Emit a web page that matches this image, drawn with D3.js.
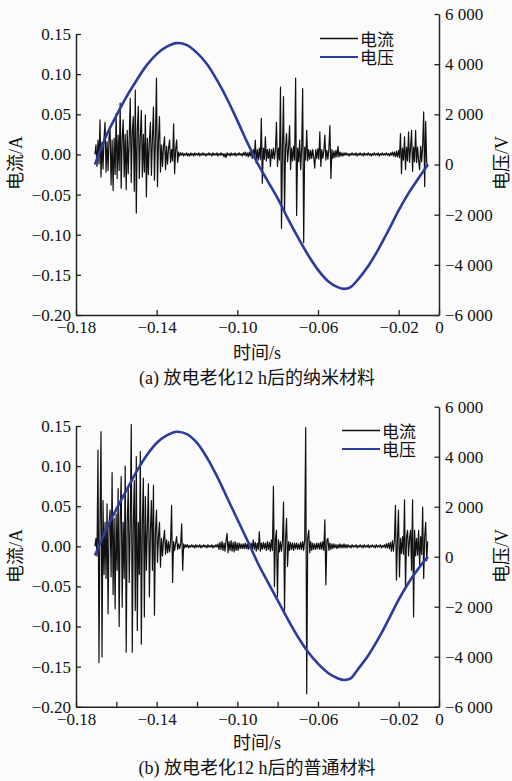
<!DOCTYPE html>
<html><head><meta charset="utf-8">
<script src="https://cdn.jsdelivr.net/npm/d3@7"></script>
<style>
html,body{margin:0;padding:0;background:#fbfbfb;}
svg{display:block;}
text{font-family:"Liberation Serif","DejaVu Serif","Noto Sans CJK SC",serif;fill:#111;}
</style></head><body>
<svg id="chart" width="512" height="781"></svg>
<script>
// ---------- data ----------
const sampleStart = -0.1706;   // s, first sample of current record
const sampleStep = 0.0005;     // s, sampling interval of current record

const currentA = [
 0.000, 0.012, -0.015, 0.018, -0.012, 0.043, -0.028, 0.015, -0.018, 0.020,
 0.040, -0.022, 0.016, -0.020, 0.022, 0.030, -0.038, 0.018, -0.045, 0.020,
 -0.025, 0.051, -0.030, 0.024, -0.020, 0.064, -0.042, 0.020, 0.043, -0.028,
 0.025, -0.044, 0.030, -0.024, 0.020, 0.070, -0.035, 0.028, 0.047, -0.046,
 0.080, -0.073, 0.030, 0.060, -0.030, 0.022, 0.055, -0.028, 0.025, -0.022,
 0.049, -0.053, 0.020, -0.025, 0.018, 0.040, -0.026, 0.020, 0.059, -0.032,
 0.020, 0.095, -0.040, 0.018, 0.047, -0.022, 0.012, -0.015, 0.010, 0.022,
 -0.019, 0.010, -0.012, 0.008, 0.018, -0.010, 0.006, -0.008, 0.038, -0.024,
 0.006, 0.018, -0.010,
 0.003, -0.002, 0.002, -0.001, 0.002, -0.002, 0.001, -0.001, 0.002, -0.002,
 0.001, -0.002, 0.002, -0.001, 0.001, -0.002, 0.002, -0.001, 0.001, -0.001,
 0.002, -0.002, 0.001, -0.001, 0.002, -0.001, 0.001, -0.002, 0.001, -0.001,
 0.002, -0.001, 0.001, -0.002, 0.002, -0.001, 0.001, -0.001, 0.002, -0.002,
 0.001, -0.001, 0.002, -0.001, 0.001, -0.003, 0.001, -0.004, 0.002, -0.001,
 0.001, -0.002, 0.002, -0.001, 0.001, -0.001, 0.002, -0.002, 0.001, -0.001,
 0.002, -0.001, 0.001, -0.002, 0.002, -0.001, 0.003, -0.002, 0.002, -0.003,
 0.003, -0.002,
 0.004, -0.005, 0.006, -0.004, 0.018, -0.011, 0.006, -0.007, 0.008, -0.006,
 0.045, -0.036, 0.008, -0.006, 0.022, -0.008, 0.006, -0.005, 0.007, -0.015,
 0.006, -0.005, 0.008, -0.006, 0.005, 0.040, -0.015, 0.008, -0.007, 0.084,
 -0.092, 0.010, 0.072, -0.073, 0.008, 0.026, -0.009, 0.007, 0.036, -0.019,
 0.008, -0.008, 0.010, -0.007, 0.095, -0.076, 0.008, -0.009, 0.018, -0.019,
 0.007, 0.082, -0.110, 0.009, -0.007, 0.030, -0.008, 0.006, -0.006, 0.005,
 -0.005, 0.006, -0.004, -0.017, 0.006, -0.005, 0.007, -0.006, 0.028, -0.015,
 0.006, -0.005, 0.005, 0.024, -0.007, 0.005, -0.006, 0.007, 0.036, -0.030,
 0.006, -0.005, 0.004, -0.004, 0.005, -0.003, 0.010, -0.003, 0.003, -0.002,
 0.002, -0.002, 0.002, -0.001,
 0.002, -0.001, 0.001, -0.002, 0.001, -0.001, 0.002, -0.001, 0.001, -0.001,
 0.002, -0.002, 0.001, -0.001, 0.002, -0.001, 0.001, -0.002, 0.002, -0.001,
 0.001, -0.001, 0.002, -0.001, 0.001, -0.002, 0.001, -0.001, 0.002, -0.001,
 0.001, -0.001, 0.002, -0.002, 0.001, -0.001, 0.002, -0.001, 0.001, -0.001,
 0.002, -0.001, 0.001, -0.002, 0.002, -0.001, 0.003, -0.002, 0.003, -0.003,
 0.004, -0.003, 0.005, -0.004,
 0.026, -0.024, 0.008, -0.007, 0.022, -0.019, 0.009, -0.008, 0.028, -0.010,
 0.008, 0.030, -0.021, 0.009, -0.009, 0.030, -0.010, 0.009, -0.008, -0.019,
 0.010, -0.009, 0.012, 0.053, -0.040, 0.041, -0.010, -0.015
];

const currentB = [
 0.000, 0.010, -0.012, 0.120, -0.145, 0.030, 0.143, -0.138, 0.057, -0.035,
 0.030, -0.040, 0.053, -0.084, 0.028, 0.045, -0.038, 0.092, -0.060, 0.035,
 -0.078, 0.040, -0.030, 0.072, -0.100, 0.035, 0.087, -0.076, 0.030, -0.040,
 0.100, -0.132, 0.030, 0.072, -0.045, 0.030, 0.152, -0.132, 0.025, 0.082,
 -0.080, 0.112, -0.105, 0.030, -0.035, 0.118, -0.122, 0.030, 0.085, -0.088,
 0.062, -0.030, 0.025, 0.078, -0.063, 0.020, 0.057, -0.030, 0.076, -0.086,
 0.018, 0.045, -0.020, 0.012, 0.030, -0.026, 0.010, -0.012, 0.008, 0.020,
 -0.010, 0.008, -0.008, 0.006, -0.007, 0.005, 0.051, -0.045, 0.006, -0.005,
 0.004, 0.012, -0.004, 0.003, -0.003, 0.003, 0.028,
 -0.030, 0.003, -0.002, 0.002, -0.001, 0.002, -0.002, 0.001, -0.001, 0.002,
 -0.001, 0.001, -0.002, 0.002, -0.001, 0.001, -0.001, 0.002, -0.002, 0.001,
 -0.001, 0.002, -0.001, 0.001, -0.002, 0.002, -0.001, 0.001, -0.001, 0.002,
 -0.002, 0.001, -0.001, 0.002, -0.001,
 0.003, -0.004, 0.005, -0.004, 0.006, -0.005, 0.004, -0.006, 0.007, 0.016,
 -0.008, 0.006, -0.005, 0.007, -0.006, 0.005, -0.007, 0.006, -0.005, 0.004,
 -0.005, 0.004, -0.003, 0.003, -0.003,
 0.003, -0.003, 0.004, -0.003, 0.003, -0.004, 0.005, -0.003, 0.004, -0.004,
 0.008, -0.004, 0.005, -0.006, 0.004, -0.004, 0.018, -0.006, 0.004, -0.004,
 0.005, -0.003, 0.004, -0.005, 0.006, -0.004, 0.005, -0.006, 0.008, -0.005,
 0.075, -0.050, 0.010, 0.020, -0.063, 0.008, -0.007, 0.006, -0.006, 0.007,
 0.055, -0.080, 0.008, 0.035, -0.025, 0.006, -0.005, 0.005, -0.004, 0.004,
 -0.005, 0.004, -0.003, 0.004, -0.004, 0.003, -0.004, 0.005, -0.004, 0.006,
 -0.005, 0.008, 0.148, -0.184, 0.010, 0.020, -0.008, 0.006, -0.005, 0.004,
 -0.004, 0.003, -0.004, 0.004, -0.003, 0.004, -0.004, 0.005, -0.004, 0.006,
 -0.005, 0.033, -0.048, 0.007, 0.010, -0.005, 0.004, -0.004, 0.003, -0.003,
 0.003, -0.002, 0.002, -0.003, 0.002, -0.002, 0.003, -0.002, 0.002, -0.002,
 0.003, -0.002, 0.002, -0.002,
 0.002, -0.001, 0.001, -0.002, 0.002, -0.001, 0.001, -0.001, 0.002, -0.002,
 0.001, -0.001, 0.002, -0.001, 0.001, -0.002, 0.002, -0.001, 0.001, -0.001,
 0.002, -0.002, 0.001, -0.001, 0.002, -0.001, 0.001, -0.002, 0.002, -0.001,
 0.001, -0.001, 0.002, -0.002, 0.001, -0.001, 0.002, -0.002, 0.003, -0.002,
 0.004, -0.003,
 0.005, -0.006, 0.007, -0.006, 0.008, 0.051, -0.042, 0.008, 0.045, -0.038,
 0.010, -0.009, 0.012, -0.010, 0.058, -0.053, 0.012, 0.020, -0.012, 0.010,
 0.020, -0.030, 0.058, -0.088, 0.020, -0.012, 0.010, -0.011, 0.020, -0.025,
 0.012, -0.010, 0.049, -0.040, 0.012, 0.030, -0.018, 0.006
];

const voltTimes = [-0.1706, -0.165, -0.160, -0.155, -0.150, -0.145, -0.140, -0.135, -0.130, -0.125,
 -0.120, -0.115, -0.110, -0.105, -0.100, -0.095, -0.090, -0.085, -0.080, -0.075,
 -0.070, -0.065, -0.060, -0.055, -0.050, -0.047, -0.044, -0.040, -0.035, -0.030,
 -0.025, -0.020, -0.015, -0.010, -0.0055];
const voltageA = [0, 1150, 1950, 2700, 3350, 3950, 4400, 4700, 4840, 4760,
 4450, 4000, 3350, 2600, 1750, 870, 50, -650, -1350, -2150,
 -2900, -3600, -4200, -4650, -4900, -4960, -4900, -4570, -4040, -3370,
 -2620, -1830, -1130, -530, 0];
const voltageB = [50, 1100, 1900, 2650, 3400, 4050, 4550, 4850, 5000, 4900,
 4550, 3950, 3200, 2350, 1500, 650, -230, -1000, -1750, -2500,
 -3200, -3800, -4280, -4650, -4870, -4930, -4880, -4480, -3940, -3270,
 -2510, -1720, -1030, -450, 0];

const currentTicks = [0.15, 0.10, 0.05, 0.00, -0.05, -0.10, -0.15, -0.20];
const voltageTicks = [6000, 4000, 2000, 0, -2000, -4000, -6000];
const timeTicks = [-0.18, -0.14, -0.10, -0.06, -0.02, 0];
const timeMinorTicks = [-0.16, -0.12, -0.08, -0.04];
const seriesNames = ["电流", "电压"];
const captions = ["(a) 放电老化12 h后的纳米材料", "(b) 放电老化12 h后的普通材料"];
const xTitle = "时间/s", yLeftTitle = "电流/A", yRightTitle = "电压/V";

// ---------- drawing ----------
const svg = d3.select("#chart");
const fmtV = d3.formatLocale({decimal: ".", thousands: " ", grouping: [3], currency: ["", ""], minus: "\u2212"}).format(",");
const fmtI = d3.format(".2f");
const fmtT = d => d === 0 ? "0" : d3.format(".2f")(d);
const AXIS = "#222", BLUE = "#2b3c9e";
const SERIF = '"Liberation Serif","DejaVu Serif",serif';

const panels = [
  {current: currentA, voltage: voltageA, caption: captions[0], bottom: 315, topI: 34, topV: 14,
   legX: 320, legY: 38.5, minor: false, xTitleY: 359, capY: 384, yTitleY: 163},
  {current: currentB, voltage: voltageB, caption: captions[1], bottom: 706.7, topI: 426, topV: 406.7,
   legX: 342, legY: 430.5, minor: true, xTitleY: 749, capY: 774, yTitleY: 556}
];

panels.forEach(p => {
  const g = svg.append("g");
  const x = d3.scaleLinear().domain([-0.18, 0]).range([76, 439]);
  const yI = d3.scaleLinear().domain([-0.20, 0.15]).range([p.bottom, p.topI]);
  const yV = d3.scaleLinear().domain([-6000, 6000]).range([p.bottom, p.topV]);

  // current trace
  g.append("path")
    .datum(p.current)
    .attr("fill", "none").attr("stroke", "#111").attr("stroke-width", 1.2)
    .attr("stroke-linejoin", "round")
    .attr("d", d3.line().x((d, i) => x(sampleStart + i * sampleStep)).y(d => yI(d)));

  // voltage trace
  g.append("path")
    .datum(p.voltage.map((v, i) => [voltTimes[i], v]))
    .attr("fill", "none").attr("stroke", BLUE).attr("stroke-width", 2.6)
    .attr("d", d3.line().x(d => x(d[0])).y(d => yV(d[1])).curve(d3.curveCatmullRom));

  // axes
  const style = sel => {
    sel.attr("font-family", null).attr("font-size", null);
    sel.select(".domain").attr("stroke", AXIS).attr("stroke-width", 1.5);
    sel.selectAll(".tick line").attr("stroke", AXIS).attr("stroke-width", 1.3);
    sel.selectAll("text").attr("fill", "#111")
      .style("font-family", SERIF).style("font-size", "17px");
  };
  g.append("g").attr("transform", "translate(76,0)")
    .call(d3.axisLeft(yI).tickValues(currentTicks).tickFormat(fmtI).tickSizeInner(-5).tickSizeOuter(0).tickPadding(5))
    .call(style);
  g.append("g").attr("transform", "translate(439,0)")
    .call(d3.axisRight(yV).tickValues(voltageTicks).tickFormat(fmtV).tickSizeInner(-4.5).tickSizeOuter(0).tickPadding(6))
    .call(style);
  g.append("g").attr("transform", `translate(0,${p.bottom})`)
    .call(d3.axisBottom(x).tickValues(timeTicks).tickFormat(fmtT).tickSizeInner(-5).tickSizeOuter(0).tickPadding(6))
    .call(style);
  if (p.minor) {
    const m = g.append("g").attr("transform", `translate(0,${p.bottom})`)
      .call(d3.axisBottom(x).tickValues(timeMinorTicks).tickFormat("").tickSizeInner(-5).tickSizeOuter(0));
    m.select(".domain").remove();
    m.selectAll(".tick line").attr("stroke", AXIS).attr("stroke-width", 1.3);
  }

  // axis titles
  g.append("text").attr("x", 257).attr("y", p.xTitleY).attr("text-anchor", "middle")
    .style("font-size", "18px").text(xTitle);
  g.append("text").attr("transform", `translate(16,${p.yTitleY}) rotate(-90)`)
    .attr("text-anchor", "middle").attr("dominant-baseline", "central")
    .style("font-size", "18px").text(yLeftTitle);
  g.append("text").attr("transform", `translate(502,${p.yTitleY}) rotate(-90)`)
    .attr("text-anchor", "middle").attr("dominant-baseline", "central")
    .style("font-size", "18px").text(yRightTitle);
  g.append("text").attr("x", 257).attr("y", p.capY).attr("text-anchor", "middle")
    .style("font-size", "18px").text(p.caption);

  // legend
  const legColors = ["#111", BLUE];
  seriesNames.forEach((name, i) => {
    const ly = p.legY + i * 18.5;
    g.append("line").attr("x1", p.legX).attr("x2", p.legX + 38).attr("y1", ly).attr("y2", ly)
      .attr("stroke", legColors[i]).attr("stroke-width", i ? 2 : 1.5);
    g.append("text").attr("x", p.legX + 40).attr("y", ly + 1.5)
      .attr("dominant-baseline", "central").style("font-size", "17px").text(name);
  });
});
</script>
</body></html>
